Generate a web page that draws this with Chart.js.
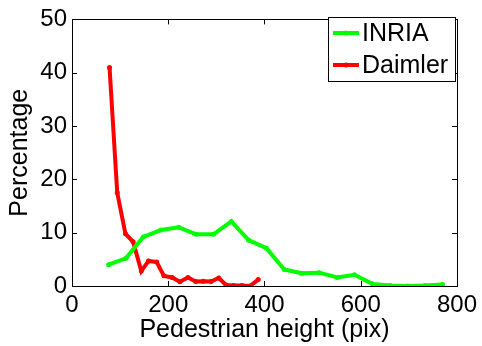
<!DOCTYPE html>
<html>
<head>
<meta charset="utf-8">
<script src="https://cdn.jsdelivr.net/npm/chart.js@4/dist/chart.umd.min.js"></script>
<style>
  html, body { margin: 0; padding: 0; background: #fff; }
  #wrap { width: 482px; height: 346px; }
</style>
</head>
<body>
<div id="wrap"><canvas id="c" width="482" height="346"></canvas></div>
<script>
// Share of pedestrians per height bin (percent)
const inriaHeights = [76, 112, 148, 185, 222, 258, 294, 331, 367, 404, 441, 477, 514, 551, 587, 624, 661, 697, 733, 770];
const inriaPercent = [4.0, 5.2, 9.2, 10.5, 11.0, 9.7, 9.7, 12.1, 8.6, 7.1, 3.1, 2.4, 2.5, 1.6, 2.1, 0.4, 0.1, 0.0, 0.1, 0.3];

const daimlerHeights = [78, 94, 111, 127, 144, 159, 176, 191, 208, 224, 241, 257, 273, 289, 305, 320, 336, 353, 370, 387];
const daimlerPercent = [41.0, 17.5, 9.8, 8.3, 2.8, 4.7, 4.5, 1.9, 1.6, 0.8, 1.6, 0.85, 0.9, 0.85, 1.5, 0.2, 0.1, 0.1, 0.0, 1.2];

const xTicks = [0, 200, 400, 600, 800];
const yTicks = [0, 10, 20, 30, 40, 50];

const FONT = 'Liberation Sans, Arial, sans-serif';

function toPoints(xs, ys) {
  return xs.map((x, i) => ({ x: x, y: ys[i] }));
}

// Box frame with inward tick marks on all four sides
const framePlugin = {
  id: 'frame',
  afterDraw(chart) {
    const { ctx, chartArea: a, scales } = chart;
    ctx.save();
    ctx.strokeStyle = '#000';
    ctx.lineWidth = 1;
    ctx.strokeRect(Math.round(a.left) + 0.5, Math.round(a.top) + 0.5,
                   Math.round(a.right - a.left), Math.round(a.bottom - a.top));
    const len = 5;
    ctx.beginPath();
    xTicks.forEach(v => {
      const px = Math.round(scales.x.getPixelForValue(v)) + 0.5;
      ctx.moveTo(px, a.bottom); ctx.lineTo(px, a.bottom - len);
      ctx.moveTo(px, a.top); ctx.lineTo(px, a.top + len);
    });
    yTicks.forEach(v => {
      const py = Math.round(scales.y.getPixelForValue(v)) + 0.5;
      ctx.moveTo(a.left, py); ctx.lineTo(a.left + len, py);
      ctx.moveTo(a.right, py); ctx.lineTo(a.right - len, py);
    });
    ctx.stroke();
    ctx.restore();
  }
};

// Boxed legend in the upper right corner of the plot
const boxLegendPlugin = {
  id: 'boxLegend',
  afterDraw(chart) {
    const { ctx } = chart;
    const x0 = 328, y0 = 17, w = 127, h = 64;
    ctx.save();
    ctx.fillStyle = '#fff';
    ctx.fillRect(x0, y0, w, h);
    ctx.strokeStyle = '#000';
    ctx.lineWidth = 1;
    ctx.strokeRect(x0 + 0.5, y0 + 0.5, w, h);
    ctx.font = '25px ' + FONT;
    ctx.textBaseline = 'middle';
    chart.data.datasets.forEach((ds, i) => {
      const cy = y0 + 16 + i * 32;
      ctx.strokeStyle = ds.borderColor;
      ctx.lineWidth = 4;
      ctx.beginPath();
      ctx.moveTo(x0 + 5, cy); ctx.lineTo(x0 + 31, cy);
      ctx.stroke();
      ctx.fillStyle = ds.borderColor;
      ctx.beginPath();
      ctx.arc(x0 + 18, cy, 2.5, 0, Math.PI * 2);
      ctx.fill();
      ctx.fillStyle = '#000';
      ctx.fillText(ds.label, x0 + 34, cy + 1);
    });
    ctx.restore();
  }
};

new Chart(document.getElementById('c'), {
  type: 'line',
  data: {
    datasets: [
      {
        label: 'INRIA',
        data: toPoints(inriaHeights, inriaPercent),
        borderColor: '#00ff00',
        backgroundColor: '#00ff00',
        borderWidth: 4,
        pointRadius: 2.5,
        pointBorderWidth: 0,
        tension: 0
      },
      {
        label: 'Daimler',
        data: toPoints(daimlerHeights, daimlerPercent),
        borderColor: '#ff0000',
        backgroundColor: '#ff0000',
        borderWidth: 4,
        pointRadius: 2.5,
        pointBorderWidth: 0,
        tension: 0
      }
    ]
  },
  options: {
    responsive: false,
    animation: false,
    events: [],
    layout: { padding: { top: 12, right: 23, left: 0, bottom: 0 } },
    plugins: { legend: { display: false }, tooltip: { enabled: false } },
    scales: {
      x: {
        type: 'linear',
        min: 0, max: 800,
        afterBuildTicks(scale) { scale.ticks = xTicks.map(v => ({ value: v })); },
        afterFit(scale) { scale.height = 60; },
        grid: { display: false, drawTicks: false },
        border: { display: false },
        ticks: { color: '#000', font: { family: FONT, size: 24 }, padding: 5, maxRotation: 0 },
        title: { display: true, text: 'Pedestrian height (pix)', color: '#000',
                 font: { family: FONT, size: 25 }, padding: { top: 0, bottom: 1 } }
      },
      y: {
        min: 0, max: 50,
        afterBuildTicks(scale) { scale.ticks = yTicks.map(v => ({ value: v })); },
        afterFit(scale) { scale.width = 72; },
        grid: { display: false, drawTicks: false },
        border: { display: false },
        ticks: { color: '#000', font: { family: FONT, size: 24 }, padding: 5 },
        title: { display: true, text: 'Percentage', color: '#000',
                 font: { family: FONT, size: 25 }, padding: { top: 5, bottom: 0 } }
      }
    }
  },
  plugins: [framePlugin, boxLegendPlugin]
});
</script>
</body>
</html>
